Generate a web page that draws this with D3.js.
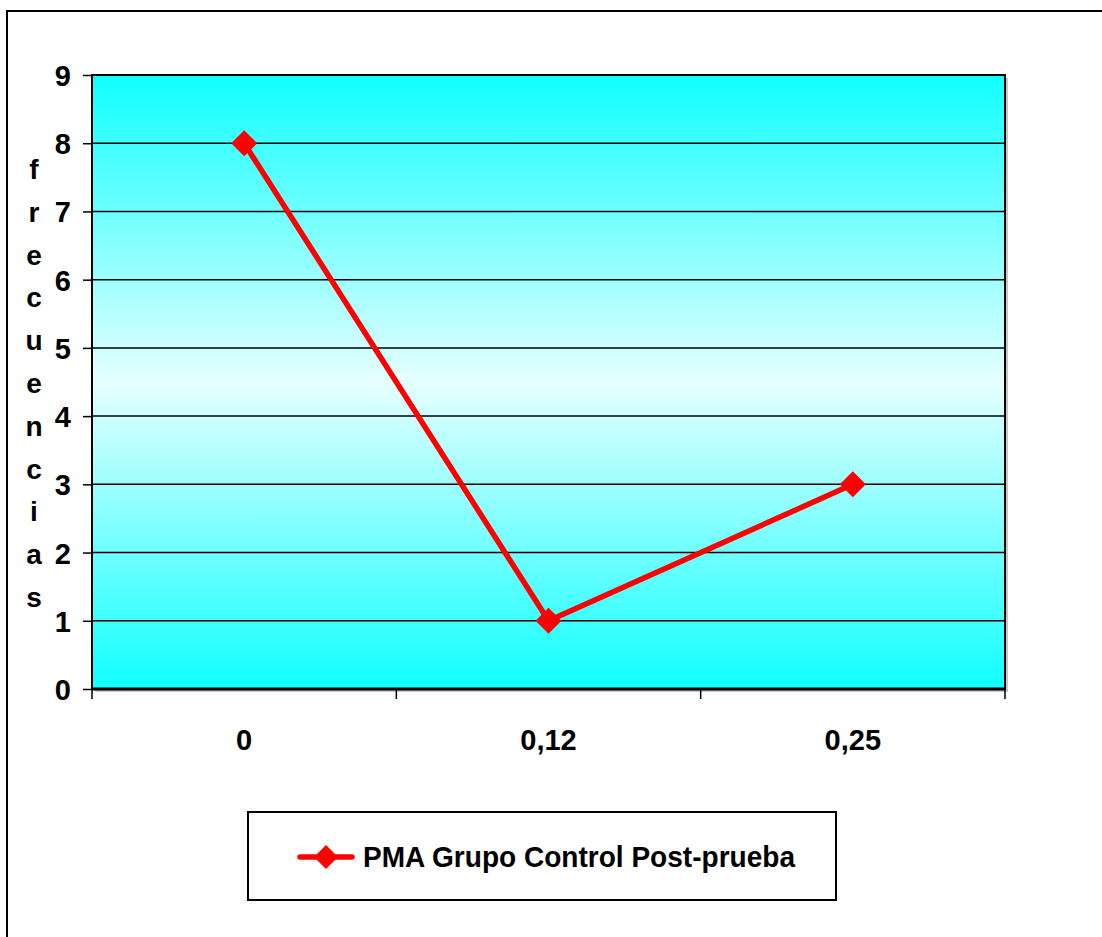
<!DOCTYPE html>
<html><head><meta charset="utf-8">
<script src="https://cdn.jsdelivr.net/npm/d3@7"></script>
<style>
html,body{margin:0;padding:0;background:#fff;}
svg{display:block;font-family:"Liberation Sans",Arial,sans-serif;font-weight:bold;}
</style></head>
<body>
<svg id="chart" width="1102" height="937"></svg>
<script>
const categories = ["0", "0,12", "0,25"];
const values = [8, 1, 3];
const yTicks = [0, 1, 2, 3, 4, 5, 6, 7, 8, 9];
const seriesName = "PMA Grupo Control Post-prueba";
const yLabel = "frecuencias";

const svg = d3.select("#chart");
const m = {left: 92, right: 1005, top: 75, bottom: 689};

// outer border
svg.append("rect").attr("x", 7).attr("y", 11).attr("width", 1200).attr("height", 1000)
  .attr("fill", "#fff").attr("stroke", "#000").attr("stroke-width", 2);

const defs = svg.append("defs");
const grad = defs.append("linearGradient").attr("id", "bg").attr("x1", 0).attr("y1", 0).attr("x2", 0).attr("y2", 1);
grad.append("stop").attr("offset", "0%").attr("stop-color", "#10ffff");
grad.append("stop").attr("offset", "50%").attr("stop-color", "#e6ffff");
grad.append("stop").attr("offset", "100%").attr("stop-color", "#10ffff");

const x = d3.scaleBand().domain(categories).range([m.left, m.right]).padding(0);
const y = d3.scaleLinear().domain([0, 9]).range([m.bottom, m.top]);

// shadow
svg.append("rect").attr("x", m.left + 3).attr("y", m.top + 3)
  .attr("width", m.right - m.left).attr("height", m.bottom - m.top).attr("fill", "#c8c8c8");
svg.append("rect").attr("x", m.left).attr("y", m.top)
  .attr("width", m.right - m.left).attr("height", m.bottom - m.top).attr("fill", "url(#bg)");

// gridlines
svg.append("g").selectAll("line").data(yTicks.filter(t => t > 0 && t < 9)).join("line")
  .attr("x1", m.left).attr("x2", m.right).attr("y1", d => y(d)).attr("y2", d => y(d))
  .attr("stroke", "#000").attr("stroke-width", 1.5);

// frame
svg.append("rect").attr("x", m.left).attr("y", m.top)
  .attr("width", m.right - m.left).attr("height", m.bottom - m.top)
  .attr("fill", "none").attr("stroke", "#000").attr("stroke-width", 2);
svg.append("line").attr("x1", m.left).attr("x2", m.right).attr("y1", m.bottom).attr("y2", m.bottom)
  .attr("stroke", "#000").attr("stroke-width", 3);

// y axis
const yAxis = d3.axisLeft(y).tickValues(yTicks).tickSize(9).tickPadding(12).tickFormat(d3.format("d"));
const gy = svg.append("g").attr("transform", `translate(${m.left},0)`).call(yAxis);
gy.select(".domain").remove();
gy.selectAll(".tick line").attr("stroke", "#000").attr("stroke-width", 1.5);
gy.selectAll(".tick text").attr("font-size", 29).attr("font-weight", "bold").attr("fill", "#000")
  .attr("font-family", "'Liberation Sans',Arial,sans-serif").attr("dy", "0.36em");

// x axis boundary ticks
const bounds = categories.map(c => x(c)).concat([m.right]);
svg.append("g").selectAll("line").data(bounds).join("line")
  .attr("x1", d => d).attr("x2", d => d).attr("y1", m.bottom).attr("y2", m.bottom + 10)
  .attr("stroke", "#000").attr("stroke-width", 1.5);
svg.append("g").selectAll("text").data(categories).join("text")
  .attr("x", d => x(d) + x.bandwidth() / 2).attr("y", 750)
  .attr("text-anchor", "middle").attr("font-size", 29).attr("fill", "#000").text(d => d);

// y label stacked
svg.append("g").selectAll("text").data(yLabel.split("")).join("text")
  .attr("x", 34).attr("y", (d, i) => 179 + i * 42.8)
  .attr("text-anchor", "middle").attr("font-size", 28).attr("fill", "#000").text(d => d);

// line
const cx = d => x(d) + x.bandwidth() / 2;
const line = d3.line().x((d, i) => cx(categories[i])).y(d => y(d));
svg.append("path").datum(values).attr("d", line).attr("fill", "none")
  .attr("stroke", "#ff0000").attr("stroke-width", 5.5).attr("stroke-linejoin", "miter");
const diamond = s => `M0,${-s}L${s},0L0,${s}L${-s},0Z`;
svg.append("g").selectAll("path").data(values).join("path")
  .attr("transform", (d, i) => `translate(${cx(categories[i])},${y(d)})`)
  .attr("d", diamond(13)).attr("fill", "#ff0000");

// legend
const lg = svg.append("g");
lg.append("rect").attr("x", 248).attr("y", 812).attr("width", 588).attr("height", 88)
  .attr("fill", "#fff").attr("stroke", "#000").attr("stroke-width", 2);
lg.append("line").attr("x1", 300).attr("x2", 352).attr("y1", 857).attr("y2", 857)
  .attr("stroke", "#ff0000").attr("stroke-width", 5.5).attr("stroke-linecap", "round");
lg.append("path").attr("transform", "translate(326,857)").attr("d", diamond(12)).attr("fill", "#ff0000");
lg.append("text").attr("x", 363).attr("y", 867).attr("font-size", 30).attr("fill", "#000")
  .attr("textLength", 432).attr("lengthAdjust", "spacingAndGlyphs").text(seriesName);
</script>
</body></html>
